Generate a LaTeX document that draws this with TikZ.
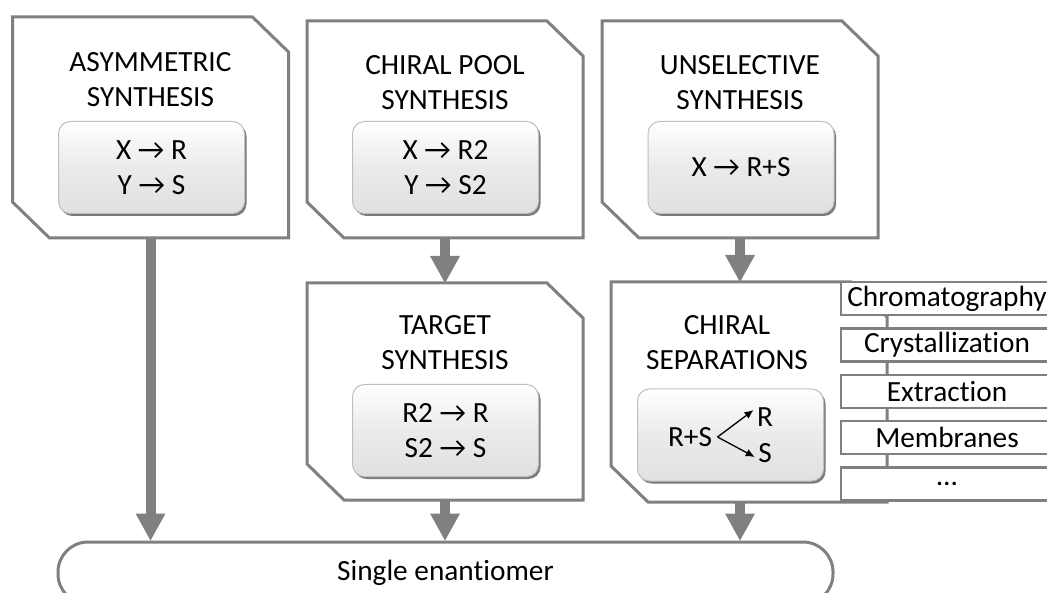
\documentclass[tikz,border=0pt]{standalone}
\usepackage{fontspec}
\setmainfont{Carlito}[Ligatures=NoCommon]
\usetikzlibrary{arrows.meta,shadows}

\newcommand{\yields}{→}
\newcommand{\chamferframe}[1]{%
  \draw[outline] (#1.north west) -- ([xshift=-36pt]#1.north east)
    -- ([yshift=-35pt]#1.north east) -- (#1.south east)
    -- ([xshift=37pt]#1.south west) -- ([yshift=36pt]#1.south west) -- cycle;}

\tikzset{
  stagebox/.style={rectangle, inner sep=0pt, outer sep=0pt,
    minimum width=276pt, minimum height=217pt},
  outline/.style={draw=black!50, line width=3pt, line join=miter},
  title/.style={align=center},
  recipe/.style={align=center, rounded corners=12pt, draw=black!25, line width=1pt,
    top color=white, bottom color=black!12, middle color=black!8, inner sep=0pt,
    minimum width=186pt, minimum height=92pt,
    drop shadow={shadow xshift=2pt, shadow yshift=-2.5pt, fill=black!65, opacity=.8}},
  method/.style={draw=black!50, line width=2.5pt, fill=white, inner sep=0pt,
    minimum width=212pt, minimum height=33pt},
  flow/.style={draw=black!50, line width=10pt,
    -{Triangle[width=30pt,length=27pt,line width=0pt]}},
  split/.style={line width=1.3pt, -{Latex[length=9pt,width=8pt]}}
}

\begin{document}
\begin{tikzpicture}[x=1pt, y=-1pt, font=\fontsize{29.3}{35}\selectfont]
\useasboundingbox (0,0) rectangle (1047,593);
\clip (0,0) rectangle (1047,593);

% the three routes
\node[stagebox, minimum height=221pt] (asym) at (150.5,127.5) {};
\node[stagebox] (pool)  at (445,129.5) {};
\node[stagebox] (unsel) at (740,129.5) {};
\chamferframe{asym}
\chamferframe{pool}
\chamferframe{unsel}
\node[title] at (150.5,79.5) {ASYMMETRIC\\SYNTHESIS};
\node[title] at (445,82.5) {CHIRAL POOL\\SYNTHESIS};
\node[title] at (740,82.5) {UNSELECTIVE\\SYNTHESIS};
\node[recipe] (asymr)  at (151.5,167.5) {X \yields{} R\\Y \yields{} S};
\node[recipe] (poolr)  at (445.5,167.5) {X \yields{} R2\\Y \yields{} S2};
\node[recipe] (unselr) at (741,167.5) {X \yields{} R+S};

% second stage
\node[stagebox] (target) at (445,391.5) {};
\node[stagebox, minimum height=220pt] (sep) at (749,392) {};
\chamferframe{target}
\chamferframe{sep}
\node[title] at (445,342.5) {TARGET\\SYNTHESIS};
\node[title] at (727,342.5) {CHIRAL\\SEPARATIONS};
\node[recipe] (targetr) at (445.5,430.5) {R2 \yields{} R\\S2 \yields{} S};
\node[recipe] (sepr) at (730.5,435) {};
\node (rs) at (690,437) {R+S};
\node (r) at (765,417) {R};
\node (s) at (765,453) {S};
\draw[split] ([xshift=2pt]rs.east) -- ([yshift=7pt]r.west);
\draw[split] ([xshift=2pt]rs.east) -- ([yshift=-4pt]s.west);

% separation methods
\foreach \name [count=\i from 0] in {Chromatography,Crystallization,Extraction,Membranes,\textellipsis}
  \node[method] (m\i) at (947,298.5+46.4*\i) {\name};

% result
\node[draw=black!50, line width=3pt, rounded corners=30pt, minimum width=775pt,
  minimum height=62pt] (single) at (445.5,573) {Single enantiomer};

\draw[flow] (asym.south) -- (asym.south |- single.north);
\draw[flow] (pool.south) -- (target.north);
\draw[flow] (unsel.south) -- (unsel.south |- sep.north);
\draw[flow] (target.south) -- (target.south |- single.north);
\draw[flow] (sep.south -| unsel.south) -- (unsel.south |- single.north);
\end{tikzpicture}
\end{document}
